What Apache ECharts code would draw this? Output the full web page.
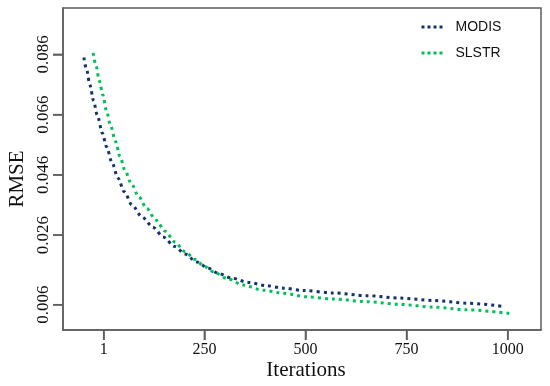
<!DOCTYPE html>
<html>
<head>
<meta charset="utf-8">
<script src="https://cdn.jsdelivr.net/npm/echarts@6/dist/echarts.min.js"></script>
<style>
html,body{margin:0;padding:0;background:#fff;}
#chart{width:550px;height:386px;}
</style>
</head>
<body>
<div id="chart"></div>
<script>
// ---- data ----
const modisX = [-48, -41, -33, -24, -15, -2, 8, 22, 36, 52, 71, 96, 124, 148, 177, 202, 231, 260, 284, 318, 359, 404, 445, 495, 569, 651, 734, 816, 899, 985];
const modisY = [0.0850, 0.0808, 0.0758, 0.0706, 0.0659, 0.0598, 0.0553, 0.0500, 0.0450, 0.0404, 0.0360, 0.0320, 0.0285, 0.0254, 0.0222, 0.0197, 0.0171, 0.0150, 0.0133, 0.0117, 0.0103, 0.0092, 0.0084, 0.0076, 0.0068, 0.0059, 0.0051, 0.0043, 0.0034, 0.0024];
const slstrX = [-25, -18, -10, -1, 8, 18, 30, 41, 54, 69, 88, 107, 130, 153, 177, 202, 227, 251, 276, 306, 346, 396, 445, 503, 569, 651, 734, 816, 899, 1004];
const slstrY = [0.0865, 0.0823, 0.0773, 0.0725, 0.0672, 0.0624, 0.0572, 0.0522, 0.0474, 0.0432, 0.0387, 0.0349, 0.0310, 0.0273, 0.0237, 0.0205, 0.0179, 0.0155, 0.0136, 0.0116, 0.0094, 0.0077, 0.0067, 0.0055, 0.0048, 0.0039, 0.0030, 0.0021, 0.0012, 0.0000];
const seriesNames = ['MODIS', 'SLSTR'];
const xTickValues = [1, 250, 500, 750, 1000];
const xTickLabels = ['1', '250', '500', '750', '1000'];
const yTickValues = [0.086, 0.066, 0.046, 0.026, 0.0029];
const yTickLabels = ['0.086', '0.066', '0.046', '0.026', '0.006'];
const xTitle = 'Iterations';
const yTitle = 'RMSE';

const colors = ['#15336b', '#00c05a'];
const frame = '#5e5e5e';
const X_MIN = -99.6, X_MAX = 1082.4, Y_MIN = -0.0055, Y_MAX = 0.1014;
const TICK_LEN = 10;
const PLOT_W = 550 - 63 - 9, PLOT_H = 386 - 8 - 56;
const K_X = PLOT_W / (X_MAX - X_MIN), K_Y = PLOT_H / (Y_MAX - Y_MIN);
// a slightly larger helper grid with the same scale, so the outward ticks lie inside its area
const X1_MIN = X_MIN - TICK_LEN / K_X, Y1_MIN = Y_MIN - TICK_LEN / K_Y;

function pairs(xs, ys) { return xs.map((x, i) => [x, ys[i]]); }
function lookup(vals, labels, v) {
  for (let i = 0; i < vals.length; i++) if (Math.abs(vals[i] - v) < 1e-6) return labels[i];
  return '';
}

const titleGraphics = [
  {type: 'text', x: 306, y: 370, style: {text: xTitle, fontFamily: 'Liberation Serif', fontSize: 21, fill: '#111', align: 'center', verticalAlign: 'middle'}},
  {type: 'text', x: 17.5, y: 179, rotation: Math.PI / 2, style: {text: yTitle, fontFamily: 'Liberation Serif', fontSize: 21, fill: '#111', align: 'center', verticalAlign: 'middle'}}
];

const tickAxisCommon = {
  type: 'value',
  gridIndex: 1,
  splitLine: {show: false},
  axisLabel: {show: false},
  axisLine: {show: false, onZero: false},
  offset: -TICK_LEN
};

const chart = echarts.init(document.getElementById('chart'), null, {renderer: 'canvas'});
chart.setOption({
  animation: false,
  backgroundColor: '#ffffff',
  grid: [
    {left: 63, right: 9, top: 8, bottom: 56, show: true, borderColor: frame, borderWidth: 1.5, backgroundColor: 'transparent'},
    {left: 63 - TICK_LEN, right: 9, top: 8, bottom: 56 - TICK_LEN, show: false}
  ],
  legend: {
    data: seriesNames,
    orient: 'vertical',
    left: 420,
    top: 20,
    padding: 0,
    itemWidth: 22,
    itemHeight: 14,
    itemGap: 12,
    itemStyle: {opacity: 0},
    lineStyle: {width: 3, type: [3, 3], cap: 'butt'},
    textStyle: {fontFamily: 'Liberation Sans', fontSize: 14, color: '#111', padding: [0, 0, 0, 7]}
  },
  xAxis: [{
    type: 'value',
    gridIndex: 0,
    min: X_MIN,
    max: X_MAX,
    splitLine: {show: false},
    axisLine: {show: true, onZero: false, lineStyle: {color: frame, width: 1.5}},
    axisTick: {show: false},
    axisLabel: {
      customValues: xTickValues,
      margin: 12,
      fontFamily: 'Liberation Serif',
      fontSize: 16,
      color: '#111',
      formatter: v => lookup(xTickValues, xTickLabels, v)
    }
  }, Object.assign({}, tickAxisCommon, {
    min: X1_MIN,
    max: X_MAX,
    position: 'bottom',
    axisTick: {show: true, inside: false, length: TICK_LEN, customValues: xTickValues, lineStyle: {color: frame, width: 1.5}}
  })],
  yAxis: [{
    type: 'value',
    gridIndex: 0,
    min: Y_MIN,
    max: Y_MAX,
    splitLine: {show: false},
    axisLine: {show: true, onZero: false, lineStyle: {color: frame, width: 1.5}},
    axisTick: {show: false},
    axisLabel: {
      customValues: yTickValues,
      rotate: 90,
      margin: 11,
      fontFamily: 'Liberation Serif',
      fontSize: 17,
      color: '#111',
      formatter: v => lookup(yTickValues, yTickLabels, v)
    }
  }, Object.assign({}, tickAxisCommon, {
    min: Y1_MIN,
    max: Y_MAX,
    position: 'left',
    axisTick: {show: true, inside: false, length: TICK_LEN, customValues: yTickValues, lineStyle: {color: frame, width: 1.5}}
  })],
  graphic: titleGraphics,
  series: [
    {name: seriesNames[0], type: 'line', xAxisIndex: 0, yAxisIndex: 0, data: pairs(modisX, modisY), smooth: 0.3, smoothMonotone: 'x', showSymbol: false, symbol: 'none', color: colors[0],
     lineStyle: {width: 3, type: [3, 4], cap: 'butt', color: colors[0]}},
    {name: seriesNames[1], type: 'line', xAxisIndex: 0, yAxisIndex: 0, data: pairs(slstrX, slstrY), smooth: 0.3, smoothMonotone: 'x', showSymbol: false, symbol: 'none', color: colors[1],
     lineStyle: {width: 3, type: [3, 4], cap: 'butt', color: colors[1]}}
  ]
});

// tick marks outside the frame, positioned through the axes' scales
const tickGraphics = [];
xTickValues.forEach(v => {
  const p = chart.convertToPixel({xAxisIndex: 0, yAxisIndex: 0}, [v, Y_MIN]);
  if (p) tickGraphics.push({type: 'line', z: 10, shape: {x1: p[0], y1: p[1], x2: p[0], y2: p[1] + TICK_LEN}, style: {stroke: frame, lineWidth: 1.5}});
});
yTickValues.forEach(v => {
  const p = chart.convertToPixel({xAxisIndex: 0, yAxisIndex: 0}, [X_MIN, v]);
  if (p) tickGraphics.push({type: 'line', z: 10, shape: {x1: p[0] - TICK_LEN, y1: p[1], x2: p[0], y2: p[1]}, style: {stroke: frame, lineWidth: 1.5}});
});
chart.setOption({graphic: titleGraphics.concat(tickGraphics)}, {replaceMerge: ['graphic']});
</script>
</body>
</html>
